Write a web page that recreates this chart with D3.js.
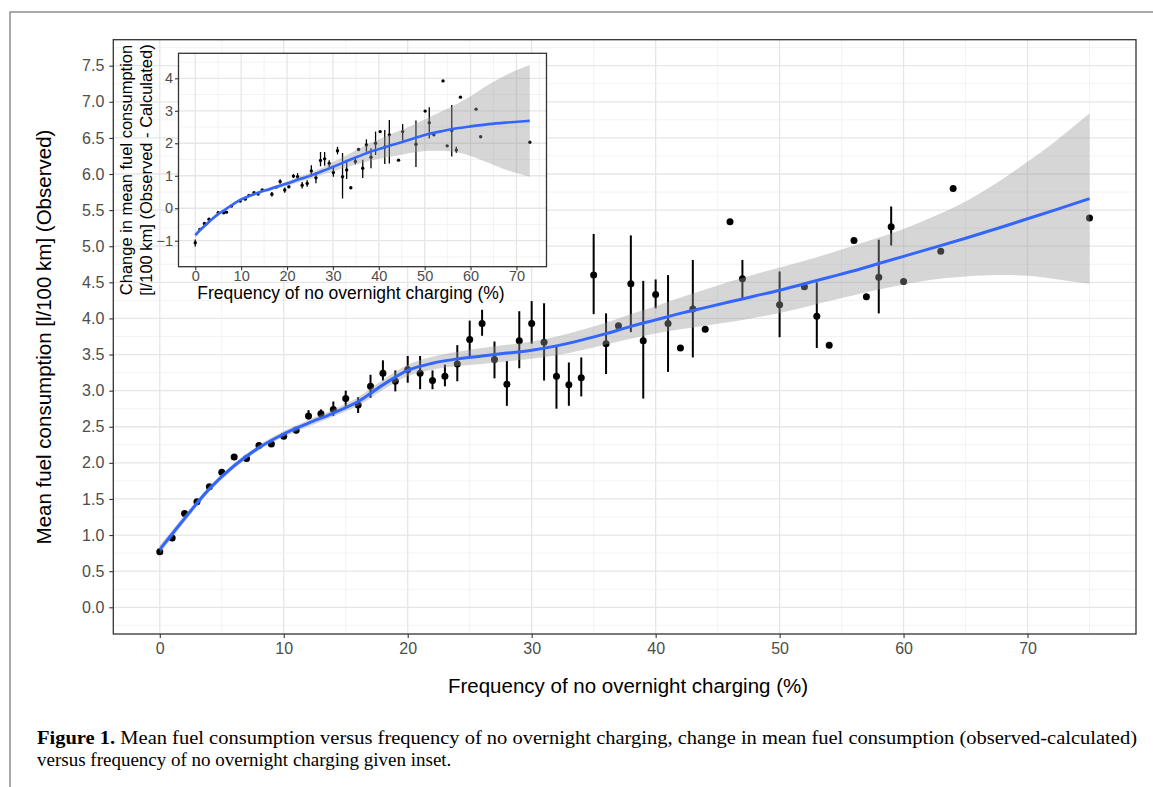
<!DOCTYPE html>
<html>
<head>
<meta charset="utf-8">
<script src="https://cdn.jsdelivr.net/npm/d3@7"></script>
<style>
  body { margin: 0; background: #fff; }
  svg { display: block; }
  .sans { font-family: "Liberation Sans", Arial, Helvetica, sans-serif; }
  .serif { font-family: "Liberation Serif", "Times New Roman", serif; }
</style>
</head>
<body>
<svg id="fig" width="1153" height="787"></svg>
<script>
// ---- main plot: observed mean fuel consumption
const mainX = [0, 1, 2, 3, 4, 5, 6, 7, 8, 9, 10, 11, 12, 13, 14, 15, 16, 17, 18, 19,
  20, 21, 22, 23, 24, 25, 26, 27, 28, 29, 30, 31, 32, 33, 34, 35, 36, 37, 38, 39,
  40, 41, 42, 43, 44, 46, 47, 50, 52, 53, 54, 56, 57, 58, 59, 60, 63, 64, 75];
const mainY = [0.77, 0.96, 1.30, 1.46, 1.67, 1.87, 2.08, 2.06, 2.24, 2.26, 2.37, 2.45, 2.65, 2.68, 2.74, 2.89, 2.80, 3.06, 3.24, 3.13,
  3.29, 3.24, 3.14, 3.20, 3.37, 3.71, 3.93, 3.43, 3.09, 3.69, 3.93, 3.67, 3.20, 3.08, 3.18, 4.60, 3.65, 3.90, 4.48, 3.69,
  4.33, 3.93, 3.59, 4.13, 3.85, 5.34, 4.55, 4.19, 4.44, 4.03, 3.63, 5.08, 4.30, 4.57, 5.27, 4.51, 4.93, 5.80, 5.39];
const mainLow = [null, null, null, null, null, null, null, null, 2.20, 2.23, null, 2.41, 2.60, 2.62, 2.65, 2.78, 2.69, 2.90, 3.14, 2.99,
  3.11, 3.02, 3.02, 3.06, 3.13, 3.47, 3.76, 3.17, 2.79, 3.31, 3.65, 3.14, 2.75, 2.79, 2.92, 4.06, 3.23, null, 3.81, 2.89,
  4.14, 3.26, null, 3.46, 3.82, null, 4.28, 3.74, null, 3.59, null, null, null, 4.07, 5.01, null, null, null, null];
const mainHigh = [null, null, null, null, null, null, null, null, 2.28, 2.30, null, 2.50, 2.73, 2.74, 2.85, 3.00, 2.91, 3.22, 3.42, 3.28,
  3.48, 3.48, 3.28, 3.36, 3.63, 3.97, 4.12, 3.68, 3.41, 4.10, 4.24, 4.21, 3.63, 3.39, 3.46, 5.17, 4.07, null, 5.15, 4.52,
  4.54, 4.60, null, 4.81, 3.89, null, 4.81, 4.65, null, 4.50, null, null, null, 5.09, 5.55, null, null, null, null];

// loess fit, with its confidence band
const mainFitX = [0, 2, 4, 6, 8, 10, 12, 14, 16, 18, 20, 22, 24, 26, 28, 30,
  32, 34, 36, 38, 40, 42, 44, 46, 48, 50, 52, 54, 56, 58, 60, 62, 65, 68, 70, 72, 75];
const mainFit = [0.80, 1.23, 1.64, 1.96, 2.21, 2.40, 2.55, 2.69, 2.85, 3.08, 3.28, 3.38, 3.44, 3.48, 3.52, 3.56,
  3.62, 3.70, 3.79, 3.89, 3.98, 4.07, 4.15, 4.23, 4.31, 4.39, 4.48, 4.57, 4.66, 4.76, 4.86, 4.96, 5.11, 5.27, 5.38, 5.49, 5.66];
const mainFitLow = [0.74, 1.185, 1.605, 1.925, 2.175, 2.36, 2.505, 2.64, 2.79, 3.01, 3.20, 3.29, 3.34, 3.37, 3.405, 3.44,
  3.49, 3.56, 3.64, 3.72, 3.79, 3.85, 3.90, 3.95, 4.01, 4.075, 4.155, 4.24, 4.32, 4.40, 4.47, 4.53, 4.58, 4.60, 4.59, 4.55, 4.48];
const mainFitHigh = [0.86, 1.275, 1.675, 1.995, 2.245, 2.44, 2.595, 2.74, 2.91, 3.15, 3.36, 3.47, 3.54, 3.59, 3.635, 3.68,
  3.75, 3.84, 3.94, 4.06, 4.17, 4.29, 4.40, 4.51, 4.61, 4.705, 4.80, 4.90, 5.01, 5.12, 5.24, 5.38, 5.62, 5.93, 6.17, 6.42, 6.84];

const mainXTicks = [0, 10, 20, 30, 40, 50, 60, 70];
const mainYTicks = [0, 0.5, 1, 1.5, 2, 2.5, 3, 3.5, 4, 4.5, 5, 5.5, 6, 6.5, 7, 7.5];

// ---- inset: observed - calculated
const insetX = [0, 1, 2, 3, 5, 6.2, 6.8, 7.9, 9.8, 10.9, 11.7, 12.8, 13.7, 14.6, 16.7, 17.7, 18.5, 19.5, 20.4, 21.4,
  22.3, 23.3, 24.4, 25.3, 26.3, 27.3, 28.2, 29.2, 30.1, 31.0, 32.1, 33.0, 33.9, 34.9, 35.6, 36.5, 37.3, 38.3, 39.3, 40.3,
  41.3, 42.3, 44.3, 45.2, 48.1, 50.1, 51.0, 52.0, 54.0, 54.9, 55.9, 56.9, 57.8, 61.2, 62.2, 72.9];
const insetY = [-1.06, -0.65, -0.47, -0.34, -0.14, -0.14, -0.12, 0.07, 0.22, 0.28, 0.39, 0.48, 0.44, 0.56, 0.43, 0.65, 0.82, 0.56, 0.66, 0.99,
  0.97, 0.71, 0.76, 1.15, 0.94, 1.47, 1.52, 1.38, 1.10, 1.77, 0.97, 1.18, 0.63, 1.44, 1.81, 1.23, 1.95, 1.57, 2.00, 2.36,
  1.88, 2.26, 1.48, 2.36, 1.97, 2.99, 2.63, 2.26, 3.92, 1.92, 2.39, 1.79, 3.42, 3.05, 2.20, 2.03];
const insetLow = [-1.18, null, null, null, null, -0.18, null, null, null, null, null, null, null, null, 0.36, null, 0.75, 0.48, null, 0.93,
  0.86, 0.61, 0.66, 0.98, 0.77, 1.29, 1.31, 1.27, 0.97, 1.66, 0.30, 0.90, null, 1.35, null, 0.93, 1.74, 1.23, 1.64, null,
  1.36, 1.38, null, 2.08, 1.27, null, 2.15, null, null, null, 1.59, 1.71, null, null, null, null];
const insetHigh = [-0.96, null, null, null, null, -0.10, null, null, null, null, null, null, null, null, 0.50, null, 0.89, 0.64, null, 1.05,
  1.08, 0.81, 0.86, 1.32, 1.11, 1.73, 1.73, 1.48, 1.25, 1.89, 1.70, 1.45, null, 1.55, null, 1.49, 2.12, 1.85, 2.36, null,
  2.41, 2.72, null, 2.59, 2.70, null, 3.11, null, null, null, 3.18, 1.89, null, null, null, null];

const insetFitX = [0, 1, 2, 3, 4, 5, 6, 8, 10, 12, 14, 16, 18, 20, 22, 24, 26, 28, 30, 32, 34, 36, 38, 40, 42, 45, 48, 51, 54, 57, 60, 64, 68, 72.9];
const insetFit = [-0.83, -0.68, -0.55, -0.42, -0.29, -0.18, -0.09, 0.10, 0.27, 0.39, 0.49, 0.58, 0.67, 0.76, 0.86, 0.95, 1.05, 1.16, 1.27, 1.39, 1.51, 1.62, 1.73, 1.82, 1.91, 2.03, 2.17, 2.29, 2.38, 2.46, 2.52, 2.59, 2.64, 2.69];
const insetFitLow = [-0.92, -0.755, -0.61, -0.475, -0.34, -0.23, -0.135, 0.06, 0.23, 0.345, 0.44, 0.525, 0.61, 0.69, 0.78, 0.86, 0.95, 1.05, 1.12, 1.22, 1.31, 1.38, 1.46, 1.52, 1.57, 1.65, 1.72, 1.77, 1.77, 1.72, 1.61, 1.39, 1.17, 0.97];
const insetFitHigh = [-0.74, -0.605, -0.49, -0.365, -0.24, -0.13, -0.045, 0.14, 0.31, 0.435, 0.54, 0.635, 0.73, 0.83, 0.94, 1.04, 1.15, 1.27, 1.42, 1.56, 1.71, 1.86, 2.00, 2.12, 2.25, 2.41, 2.60, 2.80, 3.00, 3.21, 3.45, 3.81, 4.12, 4.41];

const insetXTicks = [0, 10, 20, 30, 40, 50, 60, 70];
const insetYTicks = [-1, 0, 1, 2, 3, 4];

const xTitle = 'Frequency of no overnight charging (%)';
const mainYTitle = 'Mean fuel consumption [l/100 km] (Observed)';
const insetYTitle = ['Change in mean fuel consumption', '[l/100 km] (Observed - Calculated)'];

const svg = d3.select('#fig');

// figure frame
svg.append('rect')
  .attr('x', 10).attr('y', 12)
  .attr('width', 1200).attr('height', 900)
  .attr('fill', 'none')
  .attr('stroke', '#8c8c8c')
  .attr('stroke-width', 1.5);

function minorBreaks(ticks, domain) {
  const step = ticks[1] - ticks[0];
  const out = [ticks[0] - step / 2].concat(ticks.map((t) => t + step / 2));
  return out.filter((v) => v > domain[0] && v < domain[1]);
}

function drawPanel(p) {
  const g = svg.append('g').attr('class', 'panel');
  const [x0, x1] = p.x.range();
  const [y0, y1] = p.y.range();

  g.append('rect')
    .attr('x', x0).attr('y', y1)
    .attr('width', x1 - x0).attr('height', y0 - y1)
    .attr('fill', '#fff');

  // grid: minor first, then major
  const grid = g.append('g').attr('class', 'grid');
  grid.selectAll('.minor-x')
    .data(minorBreaks(p.xTicks, p.x.domain()))
    .enter().append('line')
      .attr('x1', (d) => p.x(d)).attr('x2', (d) => p.x(d))
      .attr('y1', y1).attr('y2', y0)
      .attr('stroke', '#f2f2f2').attr('stroke-width', 0.9);
  grid.selectAll('.minor-y')
    .data(minorBreaks(p.yTicks, p.y.domain()))
    .enter().append('line')
      .attr('y1', (d) => p.y(d)).attr('y2', (d) => p.y(d))
      .attr('x1', x0).attr('x2', x1)
      .attr('stroke', '#f2f2f2').attr('stroke-width', 0.9);
  grid.selectAll('.major-x')
    .data(p.xTicks)
    .enter().append('line')
      .attr('x1', (d) => p.x(d)).attr('x2', (d) => p.x(d))
      .attr('y1', y1).attr('y2', y0)
      .attr('stroke', '#e6e6e6').attr('stroke-width', 1.3);
  grid.selectAll('.major-y')
    .data(p.yTicks)
    .enter().append('line')
      .attr('y1', (d) => p.y(d)).attr('y2', (d) => p.y(d))
      .attr('x1', x0).attr('x2', x1)
      .attr('stroke', '#e6e6e6').attr('stroke-width', 1.3);

  const pts = p.px.map((v, i) => ({x: v, y: p.py[i], lo: p.plo[i], hi: p.phi[i]}));

  g.append('g').attr('class', 'errorbars')
    .selectAll('line')
    .data(pts.filter((d) => d.lo !== null))
    .enter().append('line')
      .attr('x1', (d) => p.x(d.x)).attr('x2', (d) => p.x(d.x))
      .attr('y1', (d) => p.y(d.lo)).attr('y2', (d) => p.y(d.hi))
      .attr('stroke', '#000').attr('stroke-width', p.barWidth);

  g.append('g').attr('class', 'points')
    .selectAll('circle')
    .data(pts)
    .enter().append('circle')
      .attr('cx', (d) => p.x(d.x))
      .attr('cy', (d) => p.y(d.y))
      .attr('r', p.radius)
      .attr('fill', '#000');

  const fit = p.fx.map((v, i) => ({x: v, y: p.fy[i], lo: p.flo[i], hi: p.fhi[i]}));

  // band drawn over the points, as in the original (points under it look grey)
  g.append('path')
    .datum(fit)
    .attr('d', d3.area()
      .x((d) => p.x(d.x))
      .y0((d) => p.y(d.lo))
      .y1((d) => p.y(d.hi))
      .curve(d3.curveMonotoneX))
    .attr('fill', '#999999')
    .attr('fill-opacity', 0.4);

  g.append('path')
    .datum(fit)
    .attr('d', d3.line()
      .x((d) => p.x(d.x))
      .y((d) => p.y(d.y))
      .curve(d3.curveMonotoneX))
    .attr('fill', 'none')
    .attr('stroke', '#3366FF')
    .attr('stroke-width', p.lineWidth);

  g.append('rect')
    .attr('x', x0).attr('y', y1)
    .attr('width', x1 - x0).attr('height', y0 - y1)
    .attr('fill', 'none')
    .attr('stroke', '#333')
    .attr('stroke-width', 1.3);

  // axes
  const xAxis = g.append('g')
    .attr('transform', `translate(0,${y0})`)
    .call(d3.axisBottom(p.x).tickValues(p.xTicks).tickSize(p.tickSize).tickPadding(p.xPad));
  const yAxis = g.append('g')
    .attr('transform', `translate(${x0},0)`)
    .call(d3.axisLeft(p.y).tickValues(p.yTicks).tickSize(p.tickSize).tickPadding(p.yPad)
      .tickFormat(p.yFormat));

  [xAxis, yAxis].forEach((ax) => {
    ax.select('.domain').remove();
    ax.selectAll('.tick line').attr('stroke', '#333').attr('stroke-width', 1.1);
    ax.selectAll('.tick text')
      .attr('fill', '#4d4d4d')
      .style('font-size', p.tickFont + 'px')
      .style('font-family', '"Liberation Sans", Arial, sans-serif');
  });

  return g;
}

// main panel
drawPanel({
  x: d3.scaleLinear().domain([-3.75, 78.75]).range([113.3, 1136]),
  y: d3.scaleLinear().domain([-0.37, 7.86]).range([634, 39.7]),
  xTicks: mainXTicks, yTicks: mainYTicks,
  px: mainX, py: mainY, plo: mainLow, phi: mainHigh,
  fx: mainFitX, fy: mainFit, flo: mainFitLow, fhi: mainFitHigh,
  radius: 3.5, barWidth: 2, lineWidth: 3,
  tickSize: 4, xPad: 5, yPad: 5, tickFont: 16,
  yFormat: d3.format('.1f'),
});

// inset panel
drawPanel({
  x: d3.scaleLinear().domain([-3.65, 76.55]).range([178.5, 546.5]),
  y: d3.scaleLinear().domain([-1.8, 4.77]).range([266.7, 53.3]),
  xTicks: insetXTicks, yTicks: insetYTicks,
  px: insetX, py: insetY, plo: insetLow, phi: insetHigh,
  fx: insetFitX, fy: insetFit, flo: insetFitLow, fhi: insetFitHigh,
  radius: 1.7, barWidth: 1.3, lineWidth: 2.6,
  tickSize: 3.5, xPad: 1, yPad: 2, tickFont: 14.5,
  yFormat: d3.format('d'),
});

// axis titles
svg.append('text')
  .attr('class', 'sans')
  .attr('x', 628).attr('y', 693)
  .attr('text-anchor', 'middle')
  .style('font-size', '20.5px')
  .text(xTitle);

svg.append('text')
  .attr('class', 'sans')
  .attr('transform', 'translate(51,337) rotate(-90)')
  .attr('text-anchor', 'middle')
  .style('font-size', '20.5px')
  .text(mainYTitle);

svg.append('text')
  .attr('class', 'sans')
  .attr('x', 351).attr('y', 299)
  .attr('text-anchor', 'middle')
  .style('font-size', '17.5px')
  .text(xTitle);

svg.selectAll('.inset-ytitle')
  .data(insetYTitle)
  .enter().append('text')
    .attr('class', 'sans inset-ytitle')
    .attr('transform', (d, i) => `translate(${132 + i * 20},170) rotate(-90)`)
    .attr('text-anchor', 'middle')
    .style('font-size', '16.5px')
    .text((d) => d);

// caption
const cap1 = svg.append('text')
  .attr('class', 'serif')
  .attr('x', 37).attr('y', 744)
  .attr('textLength', 1100)
  .attr('lengthAdjust', 'spacingAndGlyphs')
  .style('font-size', '19px');
cap1.append('tspan').attr('font-weight', 'bold').text('Figure 1.');
cap1.append('tspan').text(' Mean fuel consumption versus frequency of no overnight charging, change in mean fuel consumption (observed-calculated)');

svg.append('text')
  .attr('class', 'serif')
  .attr('x', 37).attr('y', 766)
  .style('font-size', '19px')
  .text('versus frequency of no overnight charging given inset.');
</script>
</body>
</html>
